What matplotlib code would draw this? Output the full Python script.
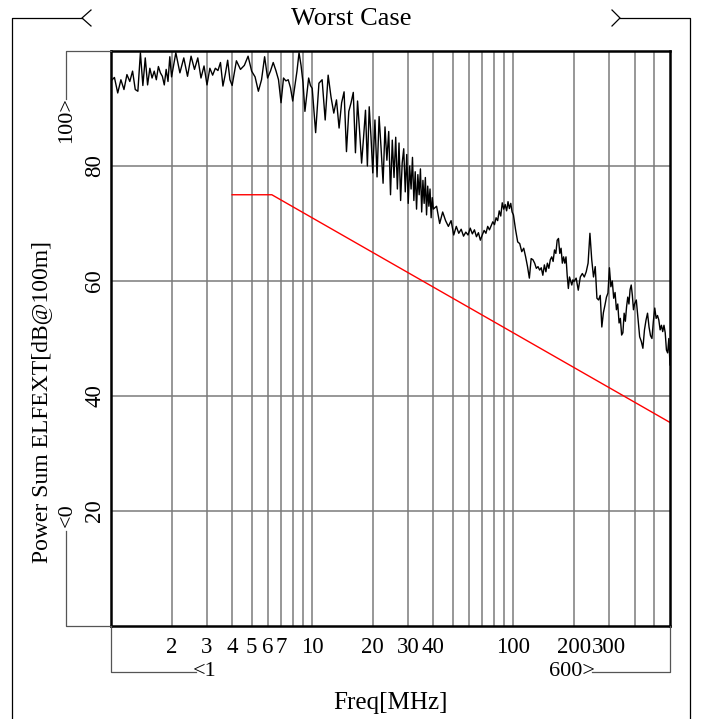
import matplotlib
matplotlib.use("Agg")
import matplotlib.pyplot as plt
from matplotlib.lines import Line2D
from matplotlib.ticker import NullFormatter

plt.rcParams["font.family"] = ["Liberation Serif", "DejaVu Serif"]

# Measured power-sum ELFEXT, split into frequency bands (MHz, dB)
freq_band_1 = [1.00, 1.04, 1.08, 1.12, 1.16, 1.20, 1.24, 1.28, 1.32, 1.36,
               1.40, 1.44, 1.48, 1.52, 1.56, 1.60, 1.64, 1.68, 1.72, 1.76,
               1.80, 1.84, 1.88, 1.92, 1.96, 2.00]
elfext_band_1 = [94.8, 95.4, 92.7, 95.0, 93.3, 95.9, 94.7, 96.5, 93.3, 93.0,
                 99.7, 94.0, 98.8, 94.1, 97.0, 95.3, 96.5, 95.0, 97.3, 96.2,
                 95.6, 94.1, 96.8, 94.7, 99.0, 95.5]

freq_band_2 = [2.1, 2.2, 2.3, 2.4, 2.5, 2.6, 2.7, 2.8, 2.9, 3.0,
               3.1, 3.2, 3.3, 3.4, 3.5, 3.6, 3.7, 3.8, 3.9, 4.0]
elfext_band_2 = [99.7, 96.2, 98.8, 95.6, 99.1, 96.8, 98.8, 95.3, 97.4, 94.1,
                 97.0, 95.8, 97.0, 96.6, 98.0, 93.9, 96.0, 98.4, 95.0, 94.0]

freq_band_3 = [4.2, 4.4, 4.6, 4.8, 5.0, 5.2, 5.4, 5.6, 5.8, 6.0,
               6.2, 6.4, 6.6, 6.8, 7.0, 7.2, 7.4, 7.6, 7.8, 8.0,
               8.2, 8.4, 8.6, 8.8, 9.0, 9.2, 9.4, 9.6, 9.8, 10.0]
elfext_band_3 = [98.3, 96.8, 97.5, 99.1, 96.5, 95.5, 93.0, 95.0, 99.0, 95.3,
                 96.5, 98.0, 96.6, 95.0, 91.0, 95.3, 94.8, 95.0, 93.6, 91.3,
                 94.0, 96.5, 99.7, 97.5, 94.5, 89.5, 92.5, 95.3, 94.0, 93.5]

freq_band_4 = [10.4, 10.8, 11.2, 11.6, 12.0, 12.4, 12.8, 13.2, 13.6, 14.0,
               14.4, 14.8, 15.2, 15.6, 16.0, 16.4, 16.8, 17.2, 17.6, 18.0,
               18.4, 18.8, 19.2, 19.6, 20.0]
elfext_band_4 = [85.8, 94.4, 95.0, 88.0, 95.8, 92.0, 89.2, 91.5, 86.6, 91.0,
                 92.9, 82.5, 89.5, 91.0, 92.8, 82.3, 91.3, 86.0, 80.5, 85.0,
                 89.7, 80.0, 90.3, 85.0, 78.8]

freq_band_5 = [20.5, 21.0, 21.5, 22.0, 22.5, 23.0, 23.5, 24.0, 24.5, 25.0,
               25.5, 26.0, 26.5, 27.0, 27.5, 28.0, 28.5, 29.0, 29.5, 30.0,
               30.5, 31.0, 31.5, 32.0, 32.5, 33.0, 33.5, 34.0, 34.5, 35.0,
               35.5, 36.0, 36.5, 37.0, 37.5, 38.0, 38.5, 39.0, 39.5, 40.0]
elfext_band_5 = [88.0, 78.1, 88.6, 83.0, 77.0, 86.8, 81.0, 86.0, 75.0, 84.5,
                 78.0, 85.0, 76.0, 84.0, 74.0, 80.5, 83.0, 75.5, 82.0, 73.5,
                 80.0, 76.0, 81.5, 74.0, 79.0, 72.5, 78.5, 75.0, 79.5, 72.0,
                 77.5, 73.5, 78.0, 71.5, 76.5, 73.0, 76.0, 71.0, 74.5, 72.5]

freq_band_6 = [41.5, 43.0, 44.5, 46.0, 47.5, 49.0, 50.5, 52.0, 53.5, 55.0,
               56.5, 58.0, 59.5, 61.0, 62.5, 64.0, 65.5, 67.0, 68.5, 70.0,
               71.5, 73.0, 74.5, 76.0, 77.5, 79.0, 80.5, 82.0, 83.5, 85.0,
               86.5, 88.0, 89.5, 91.0, 92.5, 94.0, 95.5, 97.0, 98.5, 100.0]
elfext_band_6 = [73.0, 70.0, 72.0, 70.5, 69.5, 70.5, 68.0, 69.5, 68.3, 69.0,
                 67.8, 68.5, 68.0, 69.2, 68.2, 68.9, 67.7, 68.4, 67.1, 68.0,
                 68.8, 68.3, 69.5, 68.9, 69.6, 70.3, 69.8, 71.0, 70.5, 72.2,
                 71.3, 73.6, 72.5, 73.3, 72.2, 73.8, 72.6, 73.5, 72.0, 71.5]

freq_band_7 = [102.5, 105.0, 107.5, 110.0, 112.5, 115.0, 117.5, 120.0, 122.5, 125.0,
               127.5, 130.0, 132.5, 135.0, 137.5, 140.0, 142.5, 145.0, 147.5, 150.0,
               152.5, 155.0, 157.5, 160.0, 162.5, 165.0, 167.5, 170.0, 172.5, 175.0,
               177.5, 180.0, 182.5, 185.0, 187.5, 190.0, 192.5, 195.0, 197.5, 200.0]
elfext_band_7 = [68.9, 66.8, 66.5, 65.1, 65.7, 64.2, 62.5, 60.5, 63.9, 63.7,
                 63.1, 62.2, 62.5, 61.9, 62.3, 61.0, 62.8, 61.6, 63.1, 62.2,
                 63.7, 64.2, 63.4, 65.4, 64.8, 67.1, 67.4, 64.8, 65.7, 63.1,
                 64.2, 63.1, 64.2, 61.0, 58.7, 60.7, 60.0, 59.3, 60.2, 59.9]

freq_band_8 = [205, 210, 215, 220, 225, 230, 235, 240, 245, 250,
               255, 260, 265, 270, 275, 280, 285, 290, 295, 300,
               305, 310, 315, 320, 325, 330, 335, 340, 345, 350,
               355, 360, 365, 370, 375, 380, 385, 390, 395, 400]
elfext_band_8 = [60.5, 58.4, 60.7, 61.3, 60.7, 61.6, 63.1, 68.3, 63.7, 60.7,
                 62.5, 57.0, 56.7, 57.5, 52.0, 54.5, 55.8, 57.2, 57.9, 62.3,
                 59.0, 60.0, 57.0, 58.0, 55.0, 56.0, 52.7, 53.5, 50.6, 51.0,
                 54.4, 53.0, 55.5, 57.2, 56.0, 58.5, 59.3, 57.5, 55.0, 56.0]

freq_band_9 = [408, 416, 424, 432, 440, 448, 456, 464, 472, 480,
               488, 496, 504, 512, 520, 528, 536, 544, 552, 560,
               568, 576, 584, 592, 600]
elfext_band_9 = [56.7, 53.5, 50.3, 49.5, 48.3, 51.5, 53.2, 54.4, 52.0, 50.5,
                 50.0, 53.0, 55.3, 53.5, 54.0, 53.2, 51.5, 52.3, 51.2, 52.3,
                 51.0, 48.0, 47.5, 50.0, 45.4]

freq_mhz = (freq_band_1 + freq_band_2 + freq_band_3 + freq_band_4 + freq_band_5
            + freq_band_6 + freq_band_7 + freq_band_8 + freq_band_9)
elfext_db = (elfext_band_1 + elfext_band_2 + elfext_band_3 + elfext_band_4
             + elfext_band_5 + elfext_band_6 + elfext_band_7 + elfext_band_8
             + elfext_band_9)

# Limit line (MHz, dB)
limit_freq = [4.0, 6.3, 600.0]
limit_db = [75.0, 75.0, 35.4]

# Axis ticks
x_major = [2, 3, 4, 5, 6, 7, 10, 20, 30, 40, 100, 200, 300]
x_major_labels = ["2", "3", "4", "5", "6", "7", "10", "20", "30", "40",
                  "100", "200", "300"]
x_minor = [8, 9, 50, 60, 70, 80, 90, 400, 500]
y_major = [20, 40, 60, 80]
y_major_labels = ["20", "40", "60", "80"]

W, H = 701, 719
fig = plt.figure(figsize=(W / 100, H / 100), dpi=100)
fig.patch.set_facecolor("white")
ax = fig.add_axes([111 / W, 1 - 626 / H, 559 / W, 575 / H])

ax.set_xscale("log")
ax.set_xlim(1, 600)
ax.set_ylim(0, 100)

ax.plot(freq_mhz, elfext_db, color="black", lw=1.0, zorder=3)
ax.plot(limit_freq, limit_db, color="red", lw=1.0, zorder=3)

ax.set_xticks(x_major, x_major_labels)
ax.set_xticks(x_minor, minor=True)
ax.xaxis.set_minor_formatter(NullFormatter())
ax.set_yticks(y_major, y_major_labels)
ax.tick_params(which="both", length=0)
ax.tick_params(axis="x", pad=8, labelsize=16.5)
ax.tick_params(axis="y", pad=4, labelsize=16.5, labelrotation=90)
for lab in ax.get_yticklabels():
    lab.set_va("center")

ax.grid(which="both", color="#7a7a7a", lw=1.1, zorder=1)
for s in ax.spines.values():
    s.set_linewidth(1.8)
    s.set_zorder(4)


def frame_line(xs, ys, color="black", lw=0.9):
    fig.add_artist(Line2D([x / W for x in xs], [1 - y / H for y in ys],
                          transform=fig.transFigure, color=color, lw=lw))


# Outer frame with title brackets
frame_line([12, 12, 82], [719, 18, 18])
frame_line([91, 82, 91], [10, 18, 26])
frame_line([612, 620, 612], [10, 18, 26])
frame_line([620, 690, 690], [18, 18, 719])

# Y range bracket
frame_line([111, 66, 66], [51, 51, 99], color="#555555")
frame_line([66, 66, 111], [531, 626, 626], color="#555555")

# X range bracket
frame_line([111, 111, 196], [626, 672, 672], color="#555555")
frame_line([592, 670, 670], [672, 672, 626], color="#555555")

fig.text(351 / W, 1 - 19 / H, "Worst Case", ha="center", va="center",
         fontsize=19)
fig.text(42 / W, 1 - 402 / H, "Power Sum ELFEXT[dB@100m]", rotation=90,
         ha="center", va="center", fontsize=17)
fig.text(390 / W, 1 - 703 / H, "Freq[MHz]", ha="center", va="center",
         fontsize=18)
fig.text(205 / W, 1 - 672 / H, "<1", ha="center", va="center", fontsize=16)
fig.text(572 / W, 1 - 672 / H, "600>", ha="center", va="center", fontsize=16)
fig.text(67 / W, 1 - 120 / H, "100>", rotation=90, ha="center", va="center",
         fontsize=16)
fig.text(67 / W, 1 - 515 / H, "<0", rotation=90, ha="center", va="center",
         fontsize=16)

fig.savefig("out.png", dpi=100, facecolor="white")
